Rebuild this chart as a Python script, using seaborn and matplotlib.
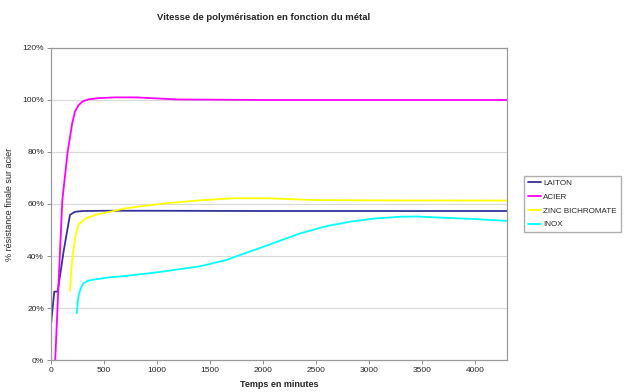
import numpy as np
import pandas as pd
import matplotlib
matplotlib.use("Agg")
import matplotlib.pyplot as plt
import seaborn as sns

# Curing-strength curves (% of final strength on steel) vs time in minutes
laiton_t = [0, 31, 63, 120, 179, 226, 300, 500, 1000, 2000, 3000, 4300]
laiton_v = [13.5, 26.3, 26.3, 42.0, 55.8, 57.0, 57.3, 57.4, 57.4, 57.3, 57.3, 57.3]

acier_t = [40, 70, 107, 157, 200, 226, 260, 300, 360, 450, 600, 800, 1000, 1200, 2000, 3000, 4300]
acier_v = [0.0, 28.0, 61.5, 80.0, 91.0, 95.5, 98.0, 99.5, 100.3, 100.7, 101.0, 101.0, 100.6, 100.2, 100.0, 100.0, 100.0]

zinc_t = [179, 190, 200, 211, 230, 258, 320, 415, 462, 557, 698, 900, 1091, 1400, 1719, 2035, 2300, 2506, 3000, 4300]
zinc_v = [26.7, 33.0, 38.5, 42.3, 47.5, 52.0, 54.3, 55.8, 56.2, 57.0, 58.3, 59.4, 60.3, 61.4, 62.2, 62.2, 61.8, 61.5, 61.4, 61.3]

inox_t = [242, 250, 258, 280, 305, 350, 415, 550, 698, 840, 1000, 1154, 1400, 1657, 1783, 2000, 2349, 2600, 2821, 3050, 3292, 3450, 3604, 4000, 4300]
inox_v = [18.0, 21.0, 24.4, 27.5, 29.5, 30.5, 31.0, 31.8, 32.3, 33.0, 33.7, 34.6, 36.0, 38.5, 40.4, 43.5, 48.7, 51.5, 53.2, 54.4, 55.1, 55.2, 54.9, 54.2, 53.5]

series_names = ["LAITON", "ACIER", "ZINC BICHROMATE", "INOX"]
series_colors = ["#333399", "#FF00FF", "#FFFF00", "#00FFFF"]

frames = []
for name, t, v in zip(series_names,
                      [laiton_t, acier_t, zinc_t, inox_t],
                      [laiton_v, acier_v, zinc_v, inox_v]):
    frames.append(pd.DataFrame({"t": t, "v": v, "metal": name}))
df = pd.concat(frames, ignore_index=True)

sns.set_theme(style="white")
plt.rcParams["font.family"] = ["Liberation Sans", "DejaVu Sans"]

fig = plt.figure(figsize=(6.27, 3.92), dpi=100)
ax = fig.add_axes([0.0813, 0.0816, 0.7273, 0.7960])

sns.lineplot(data=df, x="t", y="v", hue="metal", hue_order=series_names,
             palette=dict(zip(series_names, series_colors)),
             estimator=None, sort=False, linewidth=1.3, ax=ax, legend=True)

ax.set_xlim(0, 4300)
ax.set_ylim(0, 120)
ax.set_xticks(np.arange(0, 4001, 500))
ax.set_yticks(np.arange(0, 121, 20))
ax.set_yticklabels([f"{v}%" for v in range(0, 121, 20)])
ax.tick_params(axis="both", labelsize=6, length=3, width=0.6, color="#808080",
               direction="out", bottom=True, left=True, pad=2)
ax.grid(axis="y", color="#d9d9d9", linewidth=0.8)
ax.set_axisbelow(True)
for s in ax.spines.values():
    s.set_color("#9a9a9a")
    s.set_linewidth(0.9)

ax.set_xlabel("Temps en minutes", fontsize=6.5, fontweight="bold", labelpad=4)
ax.set_ylabel("% résistance finale sur acier", fontsize=6.5, labelpad=6)
fig.text(0.42, 0.955, "Vitesse de polymérisation en fonction du métal",
         fontsize=6.8, fontweight="bold", ha="center", va="center")

handles, labels = ax.get_legend_handles_labels()
ax.legend(handles, labels, loc="upper left", bbox_to_anchor=(0.836, 0.552),
          bbox_transform=fig.transFigure, fontsize=5.8, frameon=True,
          fancybox=False, edgecolor="#9a9a9a", handlelength=1.6,
          handletextpad=0.25, labelspacing=0.75, borderpad=0.5,
          borderaxespad=0)

fig.savefig("out.png", dpi=100)
